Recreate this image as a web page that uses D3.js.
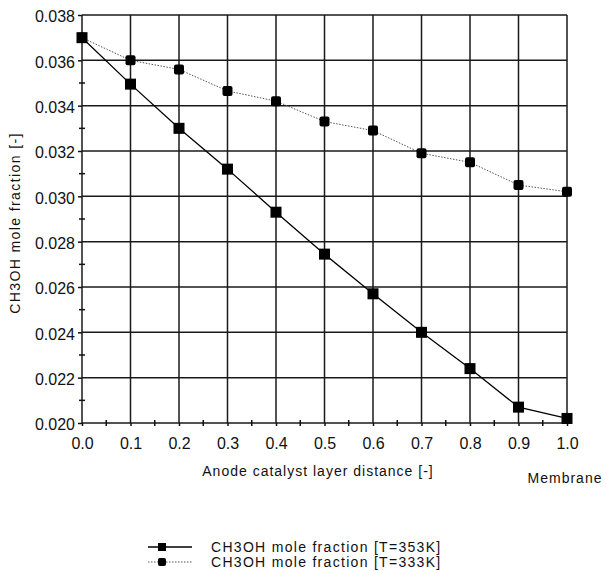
<!DOCTYPE html>
<html lang="en">
<head>
    <meta charset="UTF-8">
    <title>CH3OH mole fraction</title>
    <style>
        body { margin: 0; padding: 0; background: white; }
        text { font-family: "Liberation Sans", Arial, sans-serif; fill: #111; }
    </style>
</head>
<body>
    <svg id="chart" width="606" height="571"></svg>
    <script src="https://d3js.org/d3.v7.min.js"></script>
    <script>
        // values
        const distance = [0.0, 0.1, 0.2, 0.3, 0.4, 0.5, 0.6, 0.7, 0.8, 0.9, 1.0];
        const frac353 = [0.0370, 0.03495, 0.0330, 0.0312, 0.0293, 0.02745, 0.0257, 0.0240, 0.0224, 0.0207, 0.0202];
        const frac333 = [0.0370, 0.0360, 0.0356, 0.03465, 0.0342, 0.0333, 0.0329, 0.0319, 0.0315, 0.0305, 0.0302];
        const xTicks = [0.0, 0.1, 0.2, 0.3, 0.4, 0.5, 0.6, 0.7, 0.8, 0.9, 1.0];
        const yTicks = [0.020, 0.022, 0.024, 0.026, 0.028, 0.030, 0.032, 0.034, 0.036, 0.038];
        const legendLabels = ["CH3OH mole fraction [T=353K]", "CH3OH mole fraction [T=333K]"];

        // plot box
        const plotLeft = 82, plotRight = 567, plotTop = 15, plotBottom = 423;

        const svg = d3.select("#chart");

        const x = d3.scaleLinear().domain([0, 1]).range([plotLeft, plotRight]);
        const y = d3.scaleLinear().domain([0.020, 0.038]).range([plotBottom, plotTop]);

        // grid
        const grid = svg.append("g").attr("stroke", "#1a1a1a").attr("stroke-width", 1.5);
        grid.selectAll("line.v")
            .data(xTicks)
            .enter().append("line")
            .attr("class", "v")
            .attr("x1", d => x(d)).attr("x2", d => x(d))
            .attr("y1", plotTop).attr("y2", plotBottom);
        grid.selectAll("line.h")
            .data(yTicks)
            .enter().append("line")
            .attr("class", "h")
            .attr("x1", plotLeft).attr("x2", plotRight)
            .attr("y1", d => y(d)).attr("y2", d => y(d));

        // axes with minor crosses
        const yMinor = d3.range(0.021, 0.038, 0.002);
        const xMinor = d3.range(0.05, 1, 0.1);

        const yAxis = svg.append("g")
            .attr("transform", "translate(" + plotLeft + ",0)")
            .call(d3.axisLeft(y).tickValues(yTicks).tickFormat(d3.format(".3f")).tickSize(4).tickPadding(3));
        yAxis.select(".domain").remove();
        yAxis.selectAll("line").attr("stroke", "#111").attr("stroke-width", 1.5);
        yAxis.selectAll("text").attr("font-size", "16px").attr("fill", "#111").attr("dy", "0.42em")
            .attr("font-family", "\"Liberation Sans\", Arial, sans-serif");
        svg.append("g").selectAll("line")
            .data(yMinor)
            .enter().append("line")
            .attr("x1", plotLeft - 3).attr("x2", plotLeft + 3)
            .attr("y1", d => y(d)).attr("y2", d => y(d))
            .attr("stroke", "#111").attr("stroke-width", 1.5);

        const xAxis = svg.append("g")
            .attr("transform", "translate(0," + plotBottom + ")")
            .call(d3.axisBottom(x).tickValues(xTicks).tickFormat(d3.format(".1f")).tickSize(3).tickPadding(12));
        xAxis.select(".domain").remove();
        xAxis.selectAll("line").attr("stroke", "#111").attr("stroke-width", 1.5);
        xAxis.selectAll("text").attr("font-size", "16px").attr("fill", "#111")
            .attr("font-family", "\"Liberation Sans\", Arial, sans-serif");
        svg.append("g").selectAll("line")
            .data(xMinor)
            .enter().append("line")
            .attr("x1", d => x(d)).attr("x2", d => x(d))
            .attr("y1", plotBottom - 3).attr("y2", plotBottom + 3)
            .attr("stroke", "#111").attr("stroke-width", 1.5);

        // series
        const series = [
            { values: frac353, stroke: "#000", width: 1.3, dash: null, size: 11 },
            { values: frac333, stroke: "#555", width: 1, dash: "1.5,1.5", size: 10 }
        ];

        const line = d3.line()
            .x((d, i) => x(distance[i]))
            .y(d => y(d));

        series.slice().reverse().forEach(s => {
            svg.append("path")
                .datum(s.values)
                .attr("d", line)
                .attr("fill", "none")
                .attr("stroke", s.stroke)
                .attr("stroke-width", s.width)
                .attr("stroke-dasharray", s.dash);
            svg.append("g").selectAll("rect")
                .data(s.values)
                .enter().append("rect")
                .attr("x", (d, i) => x(distance[i]) - s.size / 2)
                .attr("y", d => y(d) - s.size / 2)
                .attr("width", s.size).attr("height", s.size)
                .attr("rx", s.size === 10 ? 2 : 0)
                .attr("fill", "#000");
        });

        // axis titles
        svg.append("text")
            .attr("transform", "translate(20,223) rotate(-90)")
            .attr("text-anchor", "middle")
            .attr("font-size", "14px")
            .attr("letter-spacing", "1.4px")
            .text("CH3OH mole fraction [-]");
        svg.append("text")
            .attr("x", 318).attr("y", 476)
            .attr("text-anchor", "middle")
            .attr("font-size", "14px")
            .attr("letter-spacing", "1px")
            .text("Anode catalyst layer distance [-]");
        svg.append("text")
            .attr("x", 565).attr("y", 483)
            .attr("text-anchor", "middle")
            .attr("font-size", "14px")
            .attr("letter-spacing", "1px")
            .text("Membrane");

        // legend
        const legend = svg.append("g");
        const legendY = [547, 562];
        series.forEach((s, i) => {
            legend.append("line")
                .attr("x1", 148).attr("x2", 192)
                .attr("y1", legendY[i]).attr("y2", legendY[i])
                .attr("stroke", s.stroke)
                .attr("stroke-width", s.width)
                .attr("stroke-dasharray", s.dash);
            legend.append("rect")
                .attr("x", 162 - 4).attr("y", legendY[i] - 4)
                .attr("width", 8).attr("height", 8)
                .attr("rx", i === 1 ? 2 : 0)
                .attr("fill", "#000");
            legend.append("text")
                .attr("x", 211).attr("y", legendY[i] + 5)
                .attr("font-size", "14px")
                .attr("letter-spacing", "1.3px")
                .text(legendLabels[i]);
        });
    </script>
</body>
</html>
